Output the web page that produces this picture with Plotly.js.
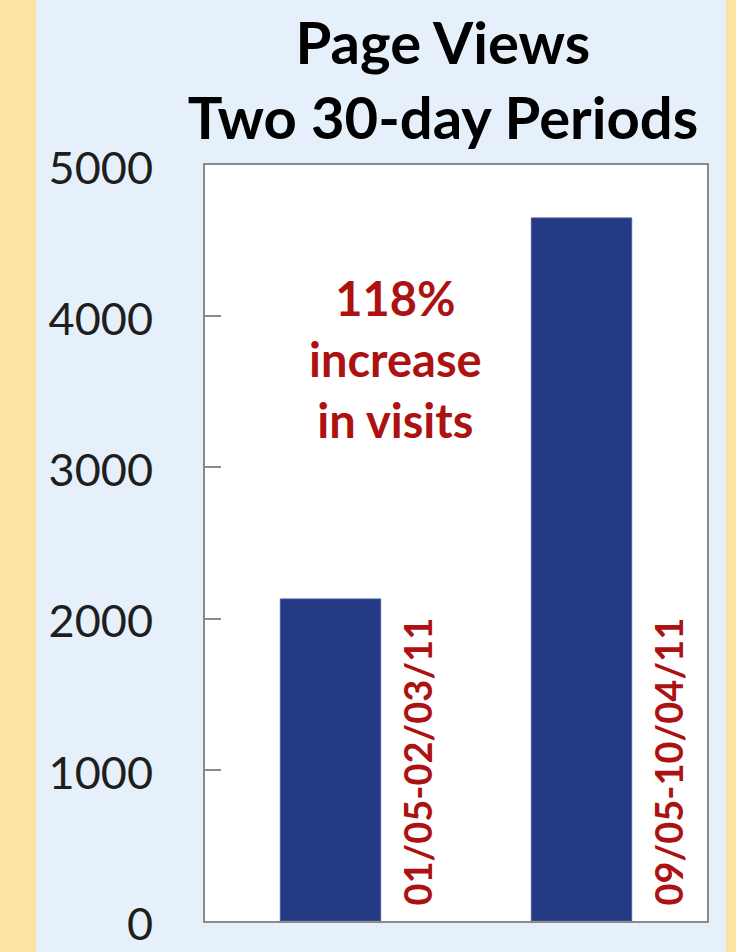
<!DOCTYPE html>
<html>
<head>
<meta charset="utf-8">
<script src="https://cdn.plot.ly/plotly-3.0.1.min.js"></script>
<style>
  html, body { margin: 0; padding: 0; background: #FCE3A2; width: 736px; height: 952px; overflow: hidden; }
  #chart { position: absolute; left: 36px; top: 0; width: 690px; height: 952px; }
</style>
</head>
<body>
<div id="chart"></div>
<script>
// Data
var periods = ['01/05-02/03/11', '09/05-10/04/11'];
var pageViews = [2130, 4650];
var yTicks = [0, 1000, 2000, 3000, 4000, 5000];
var titleLines = ['Page Views', 'Two 30-day Periods'];
var noteLines = ['118%', 'increase', 'in visits'];

var red = '#AD1212';
var axisGray = '#8a8a8a';

var trace = {
  type: 'bar',
  x: periods,
  y: pageViews,
  marker: { color: '#253A85', line: { color: '#4a5c9c', width: 1 } },
  hoverinfo: 'x+y'
};

var annotations = periods.map(function (p) {
  return {
    x: p, y: 0, xref: 'x', yref: 'y',
    text: p, textangle: -90,
    xanchor: 'center', yanchor: 'bottom',
    xshift: 86, yshift: 13,
    showarrow: false,
    font: { family: 'Lato, sans-serif', size: 38, color: red, weight: 700 }
  };
});
annotations.push({
  x: 0.26, y: 3720, xref: 'x', yref: 'y',
  text: noteLines.join('<br>'),
  xanchor: 'center', yanchor: 'middle', align: 'center',
  showarrow: false,
  font: { family: 'Lato, sans-serif', size: 47, color: red, weight: 700 }
});

var layout = {
  width: 690, height: 952,
  paper_bgcolor: '#E6F0FA',
  plot_bgcolor: '#FFFFFF',
  margin: { l: 169, r: 19, t: 165, b: 31, pad: 0 },
  showlegend: false,
  bargap: 0.6,
  title: {
    text: '<b>' + titleLines.join('<br>') + '</b>',
    x: 0.474, xref: 'paper', xanchor: 'center',
    y: 1 - 64 / 952, yref: 'container', yanchor: 'top',
    font: { family: 'Lato, sans-serif', size: 58, color: '#000000' }
  },
  xaxis: {
    type: 'category',
    range: [-0.5, 1.5],
    showticklabels: false,
    ticks: '',
    showgrid: false, zeroline: false,
    showline: true, mirror: true, linecolor: axisGray, linewidth: 2
  },
  yaxis: {
    range: [0, 5000],
    tickvals: yTicks,
    ticktext: yTicks.map(String),
    ticks: 'inside', ticklen: 16, tickwidth: 2, tickcolor: axisGray,
    ticklabelstandoff: 41,
    ticklabelshift: 3,
    tickfont: { family: 'Lato, sans-serif', size: 45, color: '#1e1e1e' },
    showgrid: false, zeroline: false,
    showline: true, mirror: true, linecolor: axisGray, linewidth: 2
  },
  annotations: annotations
};

Plotly.newPlot('chart', [trace], layout, { staticPlot: true, displayModeBar: false });
</script>
</body>
</html>
